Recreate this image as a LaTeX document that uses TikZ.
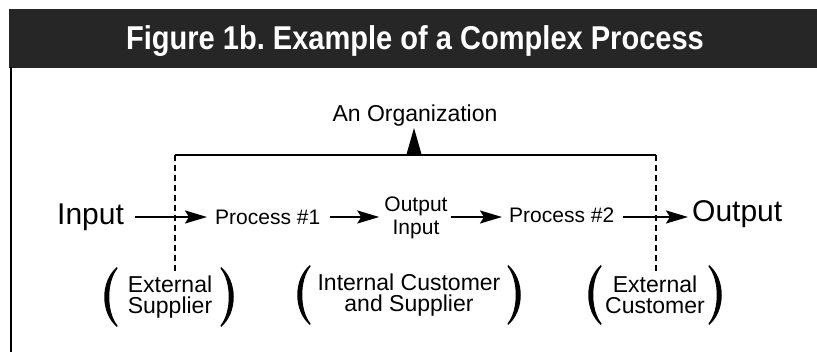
\documentclass[tikz,border=0pt]{standalone}
\usepackage{fontspec}
\setmainfont{Liberation Sans}
\usetikzlibrary{arrows.meta}
\frenchspacing
\newcommand\mylparen[2]{\fill ({#1+7},{#2-30}) .. controls ({#1-10},{#2-16}) and ({#1-10},{#2+16}) .. ({#1+7},{#2+30}) -- ({#1+7.5},{#2+28.5}) .. controls ({#1-3.5},{#2+15}) and ({#1-3.5},{#2-15}) .. ({#1+7.5},{#2-28.5}) -- cycle;}
\newcommand\myrparen[2]{\fill ({#1-7},{#2-30}) .. controls ({#1+10},{#2-16}) and ({#1+10},{#2+16}) .. ({#1-7},{#2+30}) -- ({#1-7.5},{#2+28.5}) .. controls ({#1+3.5},{#2+15}) and ({#1+3.5},{#2-15}) .. ({#1-7.5},{#2-28.5}) -- cycle;}
\begin{document}
\begin{tikzpicture}[x=1pt,y=-1pt,
  flowarrow/.style={line width=2pt,-{Stealth[length=22pt,width=13pt,inset=4pt]}},
  dashline/.style={line width=1.5pt,dash pattern=on 6pt off 4pt},
  big/.style={font=\fontsize{30}{30}\selectfont,inner sep=0pt},
  mid/.style={font=\fontsize{21}{21}\selectfont,inner sep=0pt},
  grp/.style={font=\fontsize{23}{21}\selectfont,inner sep=0pt,align=center},
]
\useasboundingbox (0,0) rectangle (817,352);
\fill[white] (0,0) rectangle (817,352);
% title bar
\fill[black!85] (9,9) rectangle (817,68);
\draw[line width=2pt] (11,67) -- (11,352);
\node[anchor=base,text=white,inner sep=0pt,font=\fontsize{33}{33}\bfseries\selectfont] (title) at (415,50) {\scalebox{0.88}[1]{Figure 1b. Example of a Complex Process}};
% organization bracket
\node[anchor=base,grp] (org) at (415,122) {An Organization};
\coordinate (bl) at (175,155);
\coordinate (br) at (656,155);
\coordinate (blb) at (175,272);
\coordinate (brb) at (656,272);
\draw[line width=1.5pt] (bl) -- (br);
\fill (406,156) -- (414,128) -- (422,156) -- cycle;
\draw[dashline] (bl) -- (blb);
\draw[dashline] (br) -- (brb);
% flow
\node[big,anchor=base west] (in) at (57,225) {Input};
\node[mid,anchor=base west] (p1) at (215,225) {Process \#1};
\node[mid,anchor=base] (midout) at (416,212) {Output};
\node[mid,anchor=base] (midin) at (416,235) {Input};
\node[mid,anchor=base west] (p2) at (509,223) {Process \#2};
\node[big,anchor=base west] (out) at (692,222) {Output};
\draw[flowarrow] ([xshift=11pt]in.east |- 0,217) -- ([xshift=-8pt]p1.west |- 0,217);
\draw[flowarrow] ([xshift=10pt]p1.east |- 0,217) -- ([xshift=-5pt]midout.west |- 0,217);
\draw[flowarrow] ([xshift=3pt]midout.east |- 0,217) -- ([xshift=-7pt]p2.west |- 0,217);
\draw[flowarrow] ([xshift=9pt]p2.east |- 0,217) -- ([xshift=-4pt]out.west |- 0,217);
% groups
\node[grp] (g1) at (170,297) {External\\Supplier};
\mylparen{110}{297}
\myrparen{228}{297}
\node[grp] (g2) at (409,295) {Internal Customer\\and Supplier};
\mylparen{303}{295}
\myrparen{515}{295}
\node[grp] (g3) at (655,295) {External\\Customer};
\mylparen{594}{295}
\myrparen{716}{295}
\end{tikzpicture}
\end{document}
